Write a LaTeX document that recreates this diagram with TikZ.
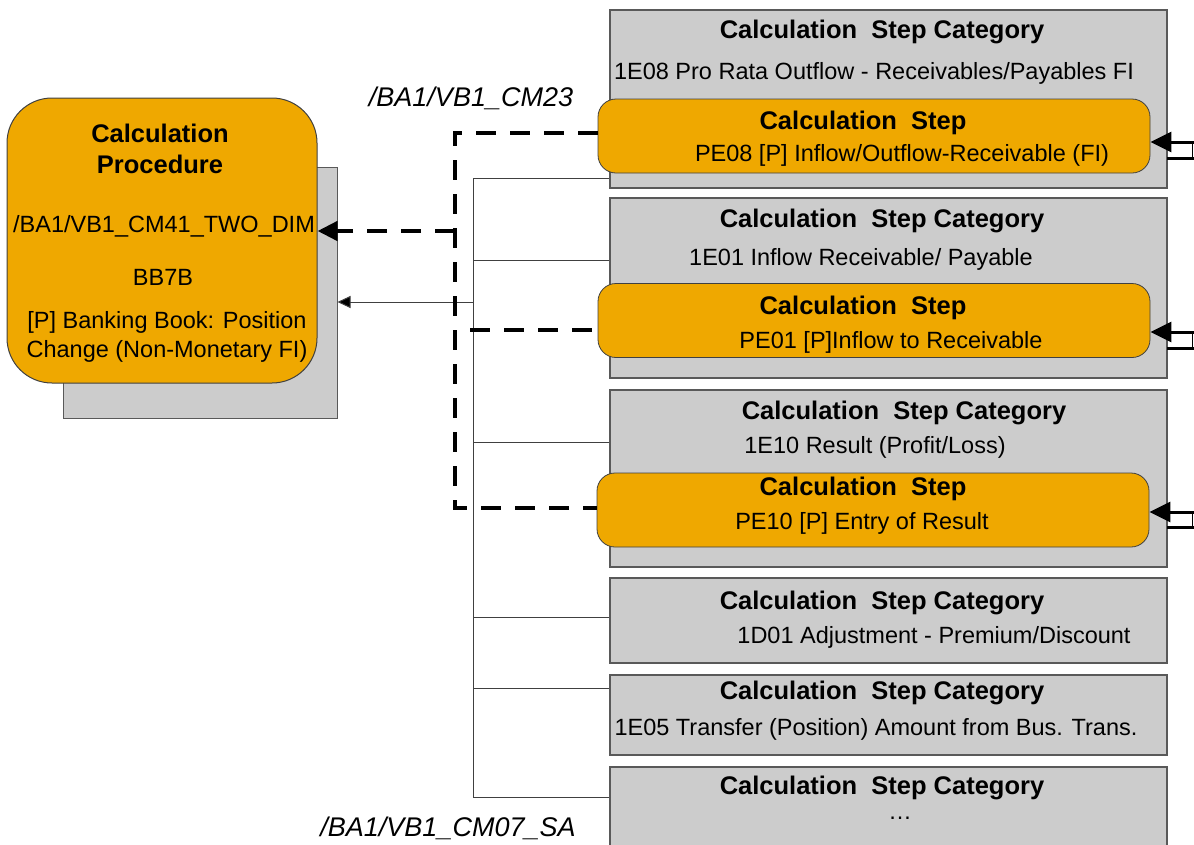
\documentclass[tikz,border=0pt]{standalone}
\usepackage{fontspec}
\setmainfont{Liberation Sans}
\usepackage{tikz}
\usetikzlibrary{arrows.meta}
\definecolor{stepgold}{HTML}{EFA800}
\definecolor{catgray}{HTML}{CCCCCC}
\tikzset{
  catbox/.style={draw=black!65,line width=1.2pt,fill=catgray,minimum width=557pt},
  stepbox/.style={draw=black!75,line width=0.8pt,fill=stepgold,rounded corners=18pt,minimum width=552pt,minimum height=74pt},
  headtxt/.style={font=\fontsize{25.5}{31}\selectfont\bfseries,inner sep=0pt},
  bodytxt/.style={font=\fontsize{23.5}{29}\selectfont,inner sep=0pt},
  idtxt/.style={font=\fontsize{27}{32}\selectfont\itshape,inner sep=0pt},
  treeline/.style={draw=black!75,line width=1pt},
  linkdash/.style={line width=4.5pt,dash pattern=on 20pt off 14pt}
}

\begin{document}
\begin{tikzpicture}[x=1pt,y=-1pt]
    \useasboundingbox (0,0) rectangle (1194,844);
    \clip (0,0) rectangle (1194,844);
    % procedure
    \node[draw=black!65,line width=1pt,fill=catgray,minimum width=274pt,minimum height=251pt] (procshadow) at (200,292.5) {};
    \node[draw=black!75,line width=1pt,fill=stepgold,rounded corners=45pt,minimum width=310pt,minimum height=285pt] (proc) at (162,240.5) {};
    \node[headtxt,align=center] (proctitle) at (160,149) {Calculation\\Procedure};
    \node[bodytxt] (procid) at (164,226) {/BA1/VB1\_CM41\_TWO\_DIM};
    \node[bodytxt] (proccode) at (163,277) {BB7B};
    \node[bodytxt,align=center] (procname) at (167,337) {[P] Banking Book: Position\\Change (Non-Monetary FI)};
    % categories
    \node[catbox,minimum height=178pt] (cat1) at (888.5,99) {};
    \node[catbox,minimum height=180pt] (cat2) at (888.5,288) {};
    \node[catbox,minimum height=177pt] (cat3) at (888.5,478.5) {};
    \node[catbox,minimum height=85pt] (cat4) at (888.5,620.5) {};
    \node[catbox,minimum height=80pt] (cat5) at (888.5,715) {};
    \node[catbox,minimum height=150pt] (cat6) at (888.5,842) {};
    % steps
    \node[stepbox] (step1) at (874,136) {};
    \node[stepbox] (step2) at (874,320.5) {};
    \node[stepbox] (step3) at (873,510) {};
    % texts
    \node[headtxt] (cat1head) at (882,32) {Calculation\ \ Step Category};
    \node[bodytxt] (cat1name) at (874,73) {1E08 Pro Rata Outflow - Receivables/Payables FI};
    \node[headtxt] (step1head) at (863,123) {Calculation\ \ Step};
    \node[bodytxt] (step1name) at (902,155) {PE08 [P] Inflow/Outflow-Receivable (FI)};
    \node[headtxt] (cat2head) at (882,221) {Calculation\ \ Step Category};
    \node[bodytxt] (cat2name) at (861,259) {1E01 Inflow Receivable/ Payable};
    \node[headtxt] (step2head) at (863,308) {Calculation\ \ Step};
    \node[bodytxt] (step2name) at (891,342) {PE01 [P]Inflow to Receivable};
    \node[headtxt] (cat3head) at (904,413) {Calculation\ \ Step Category};
    \node[bodytxt] (cat3name) at (875,447) {1E10 Result (Profit/Loss)};
    \node[headtxt] (step3head) at (863,489) {Calculation\ \ Step};
    \node[bodytxt] (step3name) at (862,523) {PE10 [P] Entry of Result};
    \node[headtxt] (cat4head) at (882,603) {Calculation\ \ Step Category};
    \node[bodytxt] (cat4name) at (934,637) {1D01 Adjustment - Premium/Discount};
    \node[headtxt] (cat5head) at (882,693) {Calculation\ \ Step Category};
    \node[bodytxt] (cat5name) at (876,729) {1E05 Transfer (Position) Amount from Bus. Trans.};
    \node[headtxt] (cat6head) at (882,788) {Calculation\ \ Step Category};
    \node[bodytxt] (cat6name) at (900,818) {\dots};
    \node[idtxt] (upperid) at (471,98) {/BA1/VB1\_CM23};
    \node[idtxt] (lowerid) at (448,828) {/BA1/VB1\_CM07\_SA};
    % thin tree
    \coordinate (treetop) at (473,178);
    \coordinate (treebot) at (473,797);
    \draw[treeline] (cat1.west |- treetop) -- (treetop) -- (treebot) -- (cat6.west |- treebot);
    \foreach \c/\y in {cat2/260,cat3/442,cat4/617,cat5/688} {\draw[treeline] (473,\y) -- (\c.west |- 0,\y);}
    \draw[treeline,-{Triangle[length=13pt,width=12pt,fill=black]}] (473,302) -- (procshadow.east |- 0,302);
    % dashed links
    \coordinate (dashtop) at (455,133);
    \coordinate (dashbot) at (455,508);
    \draw[linkdash] (step1.west |- dashtop) -- (dashtop) -- (dashbot) -- (step3.west |- dashbot);
    \draw[linkdash] (470,330) -- (step2.west |- 0,330);
    \draw[linkdash,-{Triangle[length=20pt,width=19pt]}] (455,231) -- (proc.east |- 0,231);
    % incoming arrows
    \foreach \s/\ya/\yb in {step1/142/158,step2/332/348,step3/512/527} {
      \draw[line width=3pt,-{Triangle[length=21pt,width=20pt]}] (1194,\ya) -- (\s.east |- 0,\ya);
      \draw[line width=3pt] (1167,\yb) -- (1194,\yb);
      \draw[line width=0.8pt] (1192,\ya) -- (1192,\yb);
    }
\end{tikzpicture}
\end{document}
